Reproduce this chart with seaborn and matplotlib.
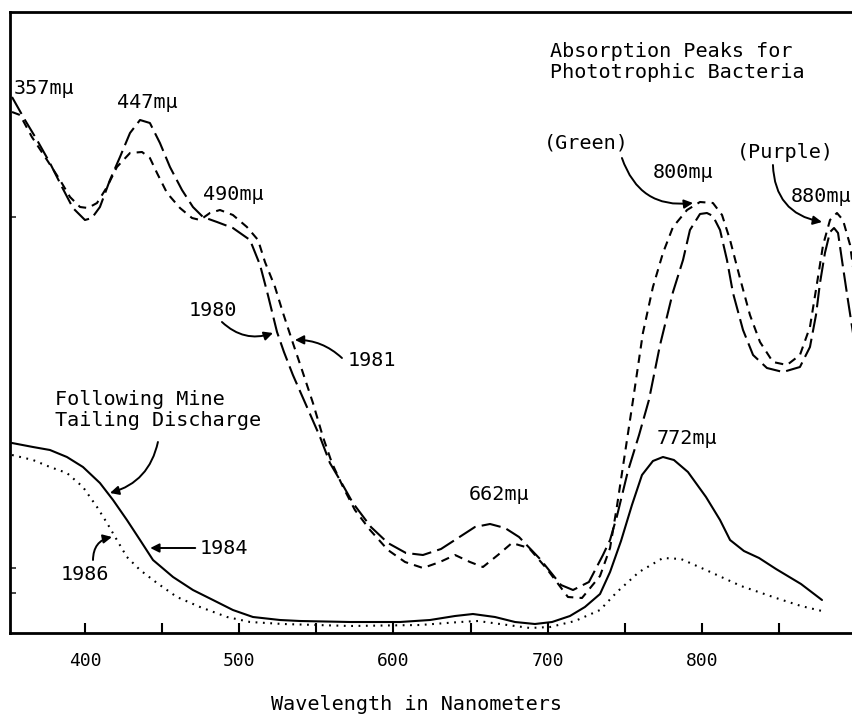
import matplotlib
matplotlib.use("Agg")
import matplotlib.pyplot as plt
import pandas as pd
import seaborn as sns

# ---------------- data ----------------
wl_1980 = [352.7, 361.1, 368.9, 377.3, 385.1, 392.2, 400.0, 404.5, 409.7, 416.2, 422.7, 429.2,
           435.7, 442.1, 448.6, 455.1, 462.9, 470.0, 476.5, 485.6, 495.9, 507.0, 513.5, 518.6,
           524.5, 529.0, 534.8, 543.9, 552.4, 558.8, 565.3, 573.7, 585.4, 596.4, 608.1, 619.1,
           630.8, 641.8, 652.8, 662.6, 672.3, 681.4, 695.0, 708.6, 716.4, 726.7, 735.8, 740.4,
           744.9, 752.0, 759.2, 765.6, 772.8, 781.2, 787.7, 792.2, 798.7, 803.2, 807.1, 811.7,
           816.2, 820.1, 826.6, 833.1, 842.1, 852.5, 863.5, 870.0, 873.9, 876.5, 879.7, 883.0,
           885.6, 888.2, 891.4, 894.6, 897.9, 901.1]
abs_1980 = [53.6, 51.3, 49.3, 47.0, 44.6, 42.5, 41.3, 41.5, 42.6, 45.3, 47.6, 50.0,
            51.3, 51.0, 49.0, 46.6, 44.3, 42.6, 41.6, 41.1, 40.5, 39.3, 36.8, 33.8,
            30.1, 28.1, 25.8, 22.6, 19.6, 17.0, 15.3, 13.0, 10.6, 9.0, 8.0, 7.8,
            8.4, 9.5, 10.6, 10.9, 10.5, 9.6, 7.4, 4.8, 4.3, 5.1, 7.8, 9.3,
            11.7, 16.2, 19.8, 23.3, 28.8, 34.1, 37.3, 40.3, 41.9, 42.0, 41.7, 40.3,
            37.3, 34.0, 30.3, 27.8, 26.5, 26.1, 26.6, 28.6, 31.8, 35.0, 38.0, 40.1,
            40.5, 40.0, 36.6, 33.3, 30.0, 26.7]

wl_1981 = [352.7, 357.9, 365.6, 375.4, 383.8, 390.3, 396.8, 401.9, 407.8, 414.3, 420.7, 429.2,
           437.0, 442.1, 446.7, 453.2, 461.6, 469.4, 474.6, 481.0, 487.5, 495.9, 505.0, 512.2,
           516.7, 523.2, 528.4, 534.8, 540.7, 547.8, 554.3, 560.1, 567.3, 575.0, 584.8, 596.4,
           607.5, 619.1, 630.1, 639.9, 649.6, 658.0, 667.7, 676.8, 687.8, 699.5, 713.1, 722.2,
           733.9, 740.4, 744.9, 750.1, 755.3, 761.7, 768.2, 774.7, 781.2, 790.3, 798.7, 807.1,
           813.0, 818.2, 824.6, 831.1, 837.6, 846.0, 855.1, 863.5, 870.0, 874.6, 878.5, 883.0,
           887.5, 891.4, 896.0, 897.9, 901.1]
abs_1981 = [52.1, 51.8, 49.6, 47.3, 45.3, 43.6, 42.6, 42.5, 43.0, 44.6, 46.6, 48.0,
            48.1, 47.5, 46.0, 44.0, 42.5, 41.5, 41.3, 42.0, 42.3, 41.8, 40.6, 39.3,
            37.1, 34.6, 32.0, 29.0, 26.3, 23.0, 19.6, 17.0, 14.6, 12.3, 10.3, 8.3,
            7.1, 6.5, 7.1, 7.8, 7.1, 6.6, 7.8, 9.0, 8.5, 6.4, 3.6, 3.5,
            5.7, 8.5, 12.7, 18.0, 23.3, 30.0, 34.6, 38.0, 40.6, 42.3, 43.1, 43.0,
            41.8, 39.3, 35.5, 31.8, 29.1, 27.1, 26.8, 27.8, 30.6, 35.0, 38.8, 41.3,
            42.0, 41.3, 38.8, 36.6, 33.3]

wl_1984 = [352.7, 366.3, 377.3, 388.3, 398.7, 409.7, 418.2, 427.2, 435.7, 444.1, 457.1, 470.0,
           483.0, 495.9, 508.9, 526.4, 539.4, 571.8, 604.2, 623.7, 639.9, 651.5, 665.8, 678.8,
           691.7, 702.8, 714.4, 724.1, 733.9, 740.4, 747.5, 754.6, 761.1, 768.2, 774.7, 781.8,
           790.9, 802.6, 811.7, 818.2, 827.2, 837.0, 848.0, 864.2, 877.8]
abs_1984 = [19.0, 18.6, 18.3, 17.6, 16.6, 15.0, 13.3, 11.3, 9.3, 7.3, 5.6, 4.3,
            3.3, 2.3, 1.6, 1.3, 1.2, 1.1, 1.1, 1.3, 1.7, 1.9, 1.6, 1.1,
            0.9, 1.1, 1.7, 2.6, 3.9, 6.1, 9.2, 12.8, 15.8, 17.2, 17.6, 17.3,
            16.1, 13.6, 11.3, 9.3, 8.2, 7.5, 6.4, 4.9, 3.3]

wl_1986 = [352.7, 366.3, 377.3, 388.3, 398.7, 407.8, 414.3, 420.7, 427.2, 435.7, 446.7, 459.6,
           474.6, 492.1, 507.0, 528.4, 571.8, 617.2, 643.1, 654.8, 669.0, 688.5, 701.5, 717.7,
           733.9, 744.9, 759.2, 774.7, 786.4, 802.6, 825.3, 848.0, 864.2, 877.8]
abs_1986 = [17.8, 17.3, 16.6, 16.0, 14.6, 12.6, 11.0, 9.3, 7.6, 6.3, 5.0, 3.6,
            2.6, 1.6, 1.1, 0.9, 0.7, 0.8, 1.1, 1.2, 0.9, 0.5, 0.6, 1.2,
            2.3, 4.1, 6.1, 7.5, 7.4, 6.3, 4.7, 3.5, 2.7, 2.2]

years = ["1980", "1981", "1984", "1986"]
x_ticks = [400, 500, 600, 700, 800]
x_minor = [450, 550, 650, 750, 850]
x_label = "Wavelength in Nanometers"

# ---------------- style ----------------
sns.set_style("white")
plt.rcParams["font.family"] = ["DejaVu Sans Mono", "DejaVu Sans"]
plt.rcParams["lines.scale_dashes"] = False
plt.rcParams["lines.solid_joinstyle"] = "round"
plt.rcParams["lines.dash_joinstyle"] = "round"

fig = plt.figure(figsize=(8.53, 7.19), dpi=100)
ax = fig.add_axes([10 / 853, (719 - 633) / 719, 843 / 853, 621 / 719])

df = pd.concat([
    pd.DataFrame({"wavelength": w, "absorbance": a, "year": y})
    for y, w, a in zip(years, [wl_1980, wl_1981, wl_1984, wl_1986],
                       [abs_1980, abs_1981, abs_1984, abs_1986])
])

sns.lineplot(data=df, x="wavelength", y="absorbance", hue="year", style="year",
             palette={y: "black" for y in years},
             dashes={"1980": (14, 4.5), "1981": (6, 4.5), "1984": "", "1986": (1.3, 4)},
             estimator=None, sort=False, linewidth=1.5, legend=False, ax=ax)

ax.set_xlim(351.4, 897.9)
ax.set_ylim(0, 62.1)

for side in ["left", "bottom", "top"]:
    ax.spines[side].set_color("black")
    ax.spines[side].set_linewidth(2.0)
ax.spines["right"].set_visible(False)

ax.set_xticks(x_ticks)
ax.set_xticklabels([str(t) for t in x_ticks])
ax.set_xticks(x_minor, minor=True)
ax.tick_params(axis="x", which="both", direction="in", length=7, width=1.5,
               bottom=True, top=False, labelsize=13, pad=14, colors="black")
ax.set_yticks([4.0, 6.5, 41.6])
ax.set_yticklabels([])
ax.tick_params(axis="y", which="both", direction="in", length=4, width=1.2, left=True,
               right=False)
ax.set_ylabel("")
ax.set_xlabel(x_label, fontsize=14.5, color="black")
ax.xaxis.set_label_coords((417 - 10) / 843, -(695 - 633) / 621)

fs = 14.5
txt = dict(fontsize=fs, color="black")
ax.text(354.0, 54.5, "357mμ", ha="left", va="center", **txt)
ax.text(440.2, 53.1, "447mμ", ha="center", va="center", **txt)
ax.text(495.9, 43.9, "490mμ", ha="center", va="center", **txt)
ax.text(701.5, 57.1, "Absorption Peaks for\nPhototrophic Bacteria", ha="left", va="center",
        linespacing=1.15, **txt)
ax.text(724.8, 49.0, "(Green)", ha="center", va="center", **txt)
ax.text(787.7, 46.0, "800mμ", ha="center", va="center", **txt)
ax.text(853.8, 48.1, "(Purple)", ha="center", va="center", **txt)
ax.text(857.5, 43.6, "880mμ", ha="left", va="center", **txt)
ax.text(483.0, 32.3, "1980", ha="center", va="center", **txt)
ax.text(586.1, 27.3, "1981", ha="center", va="center", **txt)
ax.text(380.6, 22.3, "Following Mine\nTailing Discharge", ha="left", va="center",
        linespacing=1.15, **txt)
ax.text(474.5, 8.5, "1984", ha="left", va="center", **txt)
ax.text(400.0, 5.8, "1986", ha="center", va="center", **txt)
ax.text(668.4, 13.8, "662mμ", ha="center", va="center", **txt)
ax.text(790.3, 19.4, "772mμ", ha="center", va="center", **txt)

arrow = dict(arrowstyle="-|>", color="black", lw=1.4, mutation_scale=13, shrinkA=0, shrinkB=0)
def arr(tail, tip, rad):
    ax.annotate("", xy=tip, xytext=tail,
                arrowprops=dict(connectionstyle=f"arc3,rad={rad}", **arrow))

arr((748.1, 47.5), (794.2, 43.0), 0.4)     # Green
arr((846.0, 46.8), (877.8, 41.1), 0.4)     # Purple
arr((488.8, 31.1), (521.9, 30.0), 0.3)     # 1980
arr((566.6, 27.5), (536.1, 29.3), 0.2)     # 1981
arr((447.3, 19.1), (416.2, 14.0), -0.3)    # Following Mine
arr((471.5, 8.5), (442.3, 8.5), 0.0)       # 1984
arr((405.2, 7.3), (417.5, 9.6), -0.4)      # 1986

fig.savefig("out.png", dpi=100, facecolor="white")
